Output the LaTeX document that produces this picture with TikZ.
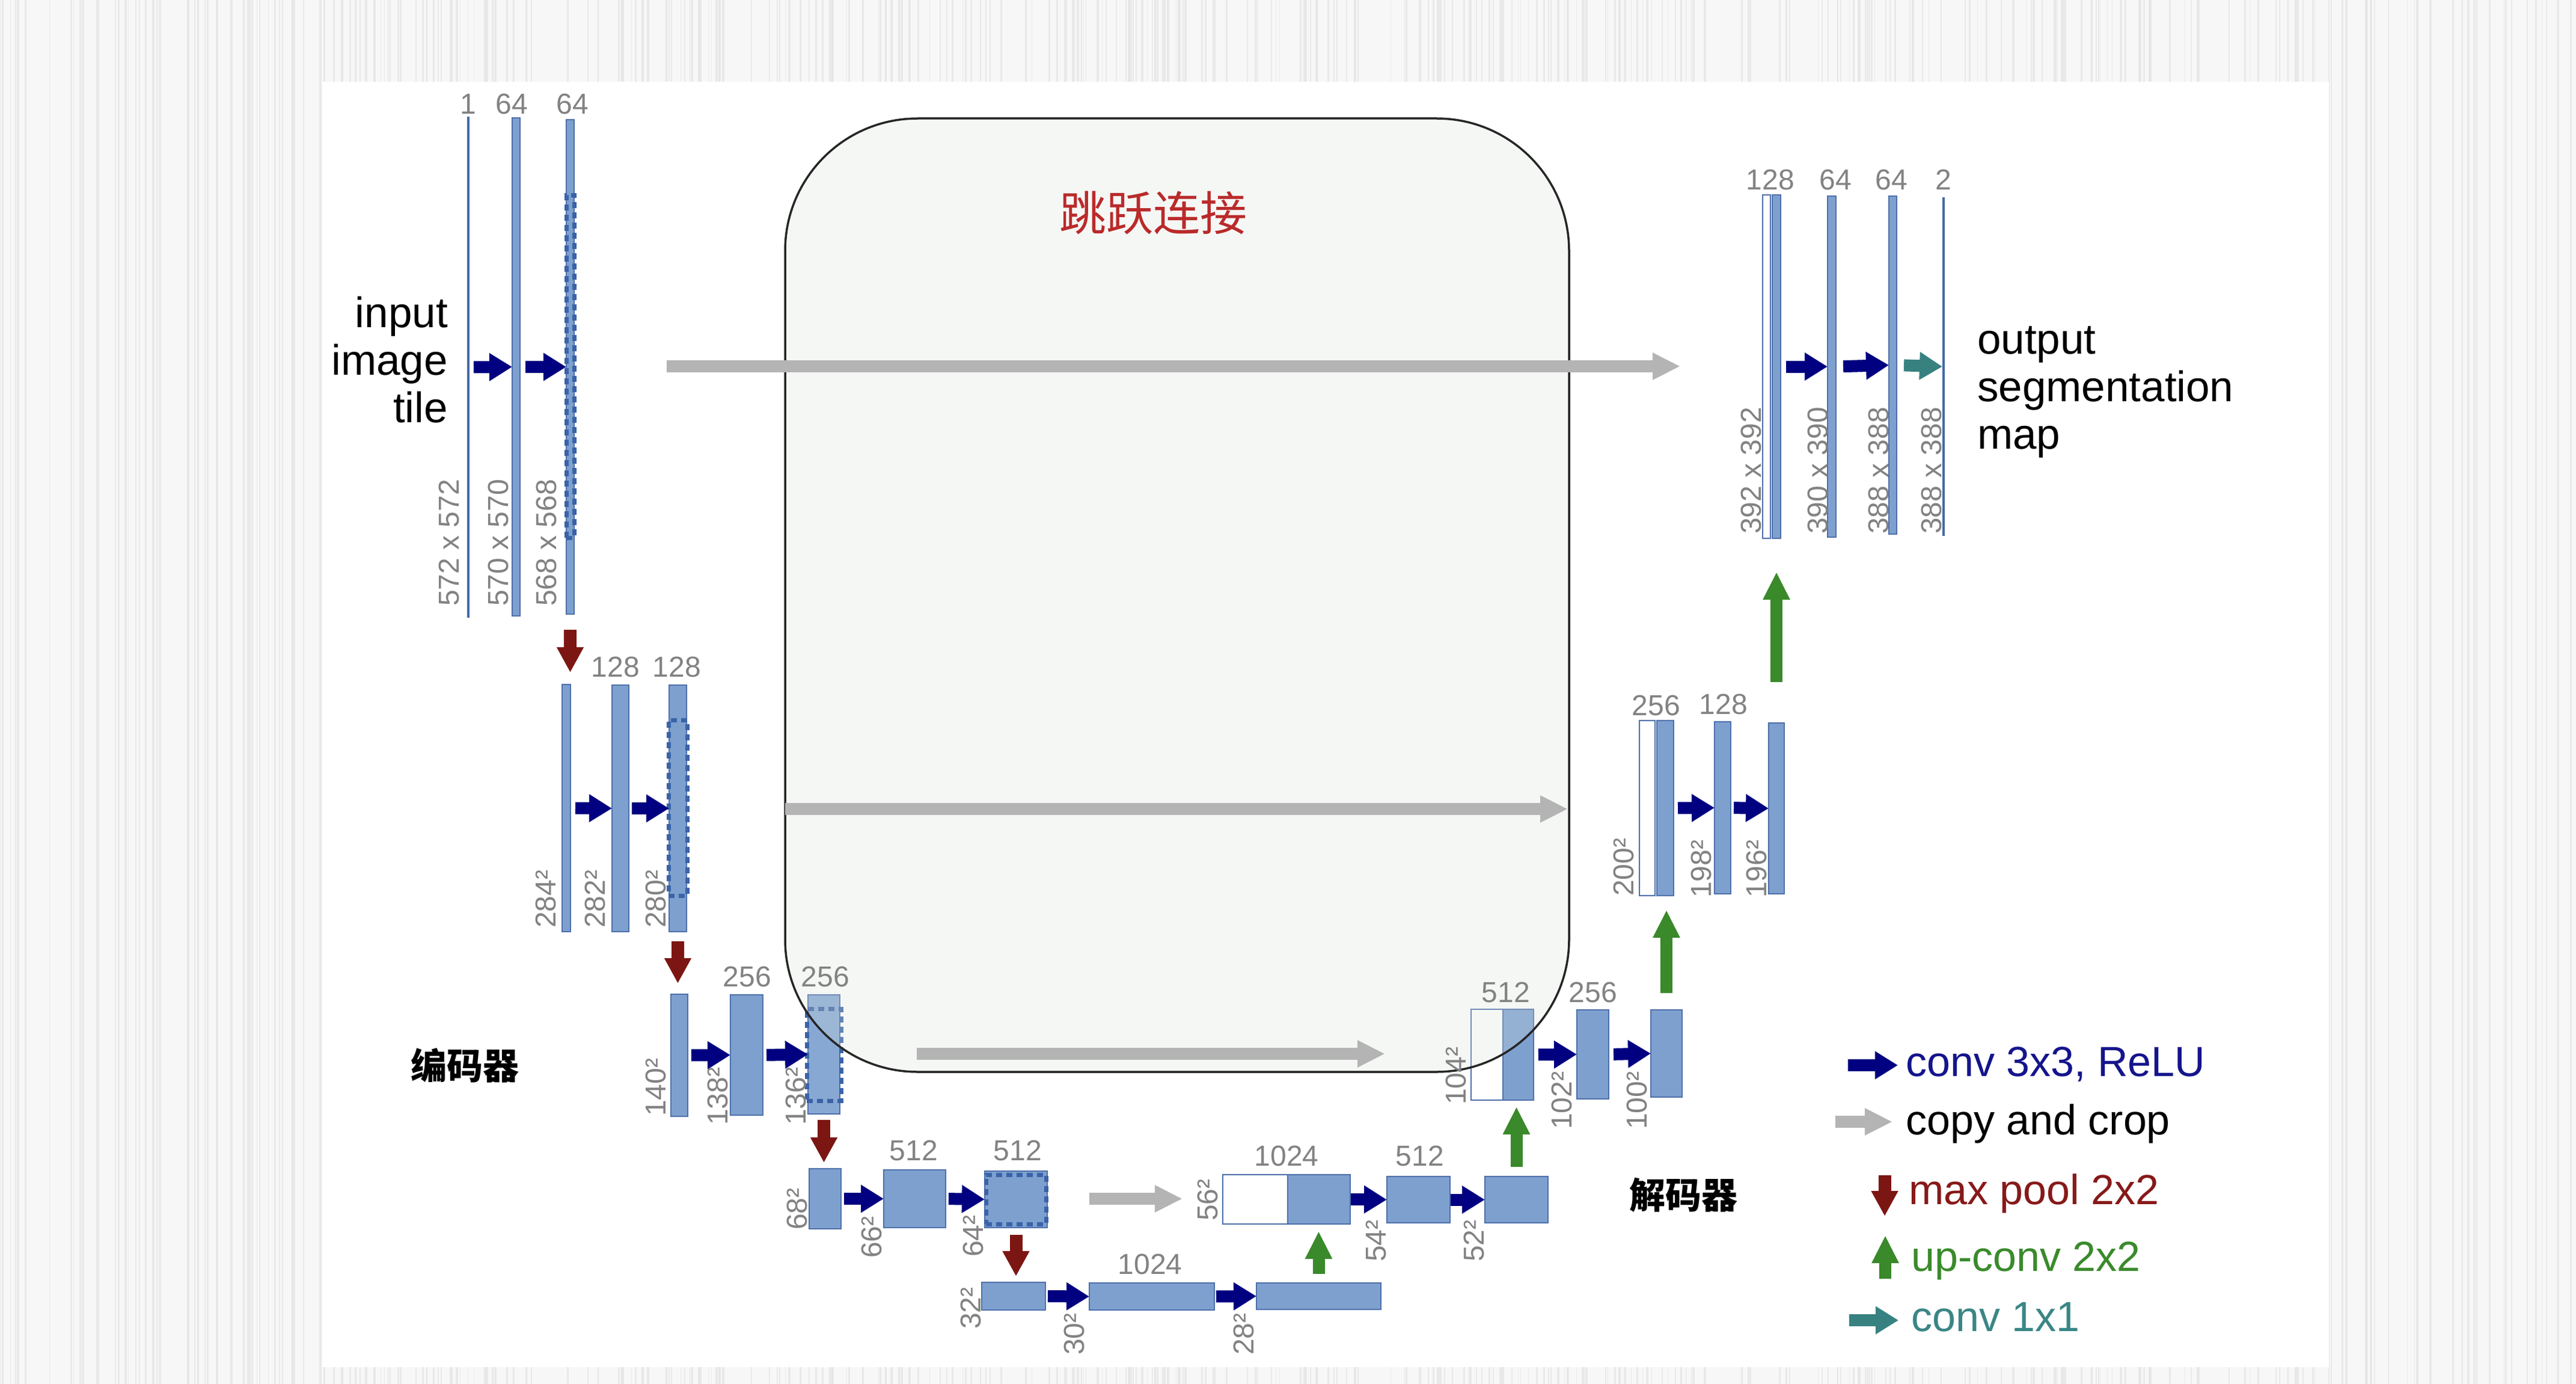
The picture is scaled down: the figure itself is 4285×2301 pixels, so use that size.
\documentclass[tikz,border=0pt]{standalone}
\usepackage{fontspec}
\setmainfont{Liberation Sans}
\newfontfamily\cjk{Noto Sans CJK SC}
\usetikzlibrary{arrows.meta,calc}
\definecolor{barfill}{RGB}{125,160,207}
\definecolor{barfilllt}{RGB}{136,168,212}
\definecolor{barline}{RGB}{78,112,170}
\definecolor{lineblue}{RGB}{70,105,165}
\definecolor{dashblue}{RGB}{58,99,168}
\definecolor{navyc}{RGB}{0,0,128}
\definecolor{poolred}{RGB}{124,22,18}
\definecolor{upgreen}{RGB}{58,137,42}
\definecolor{tealc}{RGB}{55,130,128}
\definecolor{copygray}{RGB}{180,180,180}
\definecolor{lblgray}{RGB}{130,130,130}
\definecolor{skipfill}{RGB}{219,227,219}
\definecolor{titlered}{RGB}{186,42,42}
\definecolor{bggray}{RGB}{247,247,247}
\definecolor{streak}{RGB}{228,228,228}
\definecolor{legnavy}{RGB}{20,20,140}
\definecolor{legred}{RGB}{135,25,25}
\definecolor{leggreen}{RGB}{58,138,44}
\definecolor{legteal}{RGB}{58,134,134}
\newcommand\fm[6]{\node[#1, minimum width={(#4)-(#3)}, minimum height={(#6)-(#5)}] (#2) at ({((#3)+(#4))/2},{((#5)+(#6))/2}) {};}
\begin{document}
\begin{tikzpicture}[x=1pt,y=-1pt,
  bar/.style={rectangle, fill=barfill, draw=barline, line width=2pt, inner sep=0pt, outer sep=0pt},
  lbar/.style={bar, fill=barfilllt},
  wbar/.style={bar, fill=white},
  thinbar/.style={rectangle, fill=lineblue, inner sep=0pt, outer sep=0pt},
  dashbox/.style={rectangle, draw=dashblue, line width=7pt, dash pattern=on 10pt off 7pt, inner sep=0pt, outer sep=0pt},
  skipbox/.style={rectangle, rounded corners=220pt, fill=skipfill, fill opacity=0.25, draw=black!85, draw opacity=1, line width=3.5pt, inner sep=0pt},
  conv/.style={draw=navyc, line width=20pt, -{Triangle[length=38pt, width=44pt]}},
  convt/.style={conv, draw=tealc},
  copyar/.style={draw=copygray, line width=20pt, -{Triangle[length=46pt, width=42pt]}},
  pool/.style={draw=poolred, line width=21pt, -{Triangle[length=42pt, width=42pt]}},
  upar/.style={draw=upgreen, line width=20pt, -{Triangle[length=46pt, width=42pt]}},
  lbl/.style={font=\fontsize{48}{56}\selectfont, text=lblgray, inner sep=0pt},
  toplbl/.style={lbl, anchor=base},
  rotlbl/.style={lbl, rotate=90, anchor=base west},
  bigtxt/.style={font=\fontsize{71}{79}\selectfont, text=black, inner sep=0pt},
  legtxt/.style={font=\fontsize{70}{80}\selectfont, inner sep=0pt, anchor=base west},
  cjklbl/.style={font=\cjk\bfseries\fontsize{60}{70}\selectfont, text=black, inner sep=0pt}
]
\useasboundingbox (0,0) rectangle (4285,2301);
% background texture
\fill[bggray] (0,0) rectangle (4285,2301);
\pgfmathsetseed{7}
\foreach \i in {1,...,420}{
  \pgfmathsetmacro\xx{rnd*4285}
  \pgfmathsetmacro\ww{0.8+rnd*3}
  \draw[streak, line width=\ww pt, opacity=0.7] (\xx,0) -- (\xx,2301);
}
\fill[white] (536,136) rectangle (3874,2273);

% ---------- encoder level 1
\fm{thinbar}{e1a}{777}{781}{194}{1027}
\fm{bar}{e1b}{852}{865}{196}{1024}
\fm{bar}{e1c}{942}{955}{199}{1021}
\fm{dashbox}{e1d}{942}{955}{324}{894}
% ---------- encoder level 2
\fm{bar}{e2a}{935}{949}{1138}{1549}
\fm{bar}{e2b}{1018}{1046}{1139}{1549}
\fm{bar}{e2c}{1113}{1142}{1139}{1549}
\fm{dashbox}{e2d}{1112}{1143}{1197}{1489}
% ---------- encoder level 3
\fm{bar}{e3a}{1116}{1144}{1653}{1856}
\fm{bar}{e3b}{1215}{1269}{1654}{1854}
\fm{lbar}{e3c}{1344}{1397}{1654}{1852}
\fm{dashbox}{e3d}{1342}{1399}{1677}{1830}
% ---------- encoder level 4
\fm{bar}{e4a}{1346}{1399}{1943}{2043}
\fm{bar}{e4b}{1470}{1573}{1945}{2041}
\fm{bar}{e4c}{1638}{1742}{1947}{2041}
\fm{dashbox}{e4d}{1640}{1740}{1953}{2035}
% ---------- bottom
\fm{bar}{b1}{1633}{1739}{2132}{2178}
\fm{bar}{b2}{1812}{2020}{2133}{2178}
\fm{bar}{b3}{2090}{2297}{2133}{2177}
% ---------- decoder level 4
\fm{wbar}{d4w}{2034}{2142}{1953}{2035}
\fm{bar}{d4a}{2142}{2246}{1953}{2035}
\fm{bar}{d4b}{2307}{2412}{1956}{2033}
\fm{bar}{d4c}{2470}{2575}{1956}{2033}
% ---------- decoder level 3
\fm{wbar}{d3w}{2447}{2500}{1678}{1829}
\fm{bar}{d3a}{2500}{2551}{1678}{1829}
\fm{bar}{d3b}{2623}{2676}{1679}{1827}
\fm{bar}{d3c}{2746}{2798}{1679}{1824}
% ---------- decoder level 2
\fm{wbar}{d2w}{2727}{2753}{1198}{1489}
\fm{bar}{d2a}{2756}{2784}{1198}{1489}
\fm{bar}{d2b}{2852}{2879}{1200}{1486}
\fm{bar}{d2c}{2942}{2968}{1202}{1486}
% ---------- decoder level 1
\fm{wbar}{d1w}{2932}{2945}{324}{895}
\fm{bar}{d1a}{2948}{2962}{324}{895}
\fm{bar}{d1b}{3040}{3054}{326}{893}
\fm{bar}{d1c}{3142}{3155}{326}{888}
\fm{thinbar}{d1d}{3231}{3235}{328}{891}

% ---------- skip connection region
\node[skipbox, minimum width=1304, minimum height=1585] (skip) at (1958,989.5) {};
\node[font=\cjk\fontsize{78}{90}\selectfont, text=titlered, inner sep=0pt] (title) at (1918,354) {跳跃连接};

% ---------- conv arrows
\draw[conv, shorten <=7pt] (e1a.east) -- (e1b.west);
\draw[conv, shorten <=9pt] (e1b.east) -- (e1c.west);
\draw[conv, shorten <=8pt] (e2a.east) -- (e2b.west);
\draw[conv, shorten <=5pt] (e2b.east) -- (e2c.west);
\draw[conv, shorten <=6pt] (e3a.east) -- (e3b.west);
\draw[conv, shorten <=6pt] (e3b.east) -- (e3c.west);
\draw[conv, shorten <=5pt] (e4a.east) -- (e4b.west);
\draw[conv, shorten <=5pt] (e4b.east) -- (e4c.west);
\draw[conv, shorten <=4pt] (b1.east) -- (b2.west);
\draw[conv, shorten <=3pt] (b2.east) -- (b3.west);
\draw[conv, shorten <=1pt] (d4a.east) -- (d4b.west);
\draw[conv, shorten <=1pt] (d4b.east) -- (d4c.west);
\draw[conv, shorten <=8pt] (d3a.east) -- (d3b.west);
\draw[conv, shorten <=8pt] (d3b.east) -- (d3c.west);
\draw[conv, shorten <=7pt] (d2a.east) -- (d2b.west);
\draw[conv, shorten <=5pt] (d2b.east) -- (d2c.west);
\draw[conv, shorten <=9pt] (d1a.east) -- (d1b.west);
\draw[conv, shorten <=12pt] (d1b.east) -- (d1c.west);
\draw[convt, shorten <=12pt] (d1c.east) -- (d1d.west);

% ---------- max pool arrows
\draw[pool, shorten <=26pt, shorten >=20pt] (e1c.south) -- (e1c.south |- e2a.north);
\draw[pool, shorten <=16pt, shorten >=18pt] (e2c.south) -- (e2c.south |- e3a.north);
\draw[pool, shorten <=10pt, shorten >=10pt] (e3c.south) -- (e3c.south |- e4a.north);
\draw[pool, shorten <=12pt, shorten >=10pt] (e4c.south) -- (e4c.south |- b1.north);

% ---------- up-conv arrows
\draw[upar, shorten <=15pt, shorten >=12pt] (b3.north) -- (b3.north |- d4a.south);
\draw[upar, shorten <=16pt, shorten >=11pt] (d4c.north) -- (d4c.north |- d3a.south);
\draw[upar, shorten <=28pt, shorten >=24pt] (d3c.north) -- (d3c.north |- d2a.south);
\draw[upar, shorten <=68pt, shorten >=56pt] (d2c.north) -- (d2c.north |- d1a.south);

% ---------- copy and crop arrows
\coordinate (c1s) at (1109,609);  \coordinate (c1e) at (2795,609);
\coordinate (c2s) at (1306,1345); \coordinate (c2e) at (2608,1345);
\coordinate (c3s) at (1525,1752); \coordinate (c3e) at (2304,1752);
\coordinate (c4s) at (1812,1993); \coordinate (c4e) at (1967,1993);
\draw[copyar] (c1s) -- (c1e);
\draw[copyar] (c2s) -- (c2e);
\draw[copyar] (c3s) -- (c3e);
\draw[copyar] (c4s) -- (c4e);

% ---------- channel labels
\node[toplbl] (tl1) at (779,190) {1};
\node[toplbl] (tl2) at (851,190) {64};
\node[toplbl] (tl3) at (952,190) {64};
\node[toplbl] (tl4) at (1024,1125) {128};
\node[toplbl] (tl5) at (1126,1125) {128};
\node[toplbl] (tl6) at (1243,1640) {256};
\node[toplbl] (tl7) at (1373,1640) {256};
\node[toplbl] (tl8) at (1520,1929) {512};
\node[toplbl] (tl9) at (1693,1929) {512};
\node[toplbl] (tl10) at (1913,2118) {1024};
\node[toplbl] (tl11) at (2140,1938) {1024};
\node[toplbl] (tl12) at (2362,1938) {512};
\node[toplbl] (tl13) at (2505,1666) {512};
\node[toplbl] (tl14) at (2650,1666) {256};
\node[toplbl] (tl15) at (2755,1189) {256};
\node[toplbl] (tl16) at (2867,1187) {128};
\node[toplbl] (tl17) at (2945,315) {128};
\node[toplbl] (tl18) at (3053,315) {64};
\node[toplbl] (tl19) at (3146,315) {64};
\node[toplbl] (tl20) at (3233,315) {2};

% ---------- size labels
\node[rotlbl] (rl1) at (763,1008) {572 x 572};
\node[rotlbl] (rl2) at (845,1008) {570 x 570};
\node[rotlbl] (rl3) at (925,1008) {568 x 568};
\node[rotlbl] (rl4) at (924,1543) {284²};
\node[rotlbl] (rl5) at (1006,1543) {282²};
\node[rotlbl] (rl6) at (1107,1543) {280²};
\node[rotlbl] (rl7) at (1107,1856) {140²};
\node[rotlbl] (rl8) at (1210,1871) {138²};
\node[rotlbl] (rl9) at (1340,1871) {136²};
\node[rotlbl] (rl10) at (1342,2045) {68²};
\node[rotlbl] (rl11) at (1466,2092) {66²};
\node[rotlbl] (rl12) at (1635,2090) {64²};
\node[rotlbl] (rl13) at (1631,2210) {32²};
\node[rotlbl] (rl14) at (1803,2253) {30²};
\node[rotlbl] (rl15) at (2085,2253) {28²};
\node[rotlbl] (rl16) at (2025,2030) {56²};
\node[rotlbl] (rl17) at (2305,2098) {54²};
\node[rotlbl] (rl18) at (2468,2098) {52²};
\node[rotlbl] (rl19) at (2438,1837) {104²};
\node[rotlbl] (rl20) at (2614,1878) {102²};
\node[rotlbl] (rl21) at (2739,1878) {100²};
\node[rotlbl] (rl22) at (2717,1490) {200²};
\node[rotlbl] (rl23) at (2846,1493) {198²};
\node[rotlbl] (rl24) at (2938,1493) {196²};
\node[rotlbl] (rl25) at (2929,888) {392 x 392};
\node[rotlbl] (rl26) at (3040,888) {390 x 390};
\node[rotlbl] (rl27) at (3141,888) {388 x 388};
\node[rotlbl] (rl28) at (3229,888) {388 x 388};

% ---------- texts
\node[bigtxt, align=right, anchor=east] (intile) at (745,598) {input\\image\\tile};
\node[bigtxt, align=left, anchor=west] (outmap) at (3289,652) {output\\segmentation\\map};
\node[cjklbl] (enc) at (773,1771) {编码器};
\node[cjklbl] (dec) at (2800,1987) {解码器};

% ---------- legend
\coordinate (l1s) at (3074,1771); \coordinate (l1e) at (3157,1771);
\coordinate (l2s) at (3053,1865); \coordinate (l2e) at (3148,1865);
\coordinate (l3s) at (3135,1954); \coordinate (l3e) at (3135,2022);
\coordinate (l4s) at (3136,2126); \coordinate (l4e) at (3136,2054);
\coordinate (l5s) at (3076,2195); \coordinate (l5e) at (3158,2195);
\draw[conv] (l1s) -- (l1e);
\draw[copyar] (l2s) -- (l2e);
\draw[pool] (l3s) -- (l3e);
\draw[upar] (l4s) -- (l4e);
\draw[convt] (l5s) -- (l5e);
\node[legtxt, text=legnavy] (lg1) at (3170,1789) {conv 3x3, ReLU};
\node[legtxt, text=black] (lg2) at (3170,1886) {copy and crop};
\node[legtxt, text=legred] (lg3) at (3175,2002) {max pool 2x2};
\node[legtxt, text=leggreen] (lg4) at (3179,2113) {up-conv 2x2};
\node[legtxt, text=legteal] (lg5) at (3179,2213) {conv 1x1};
\end{tikzpicture}
\end{document}
